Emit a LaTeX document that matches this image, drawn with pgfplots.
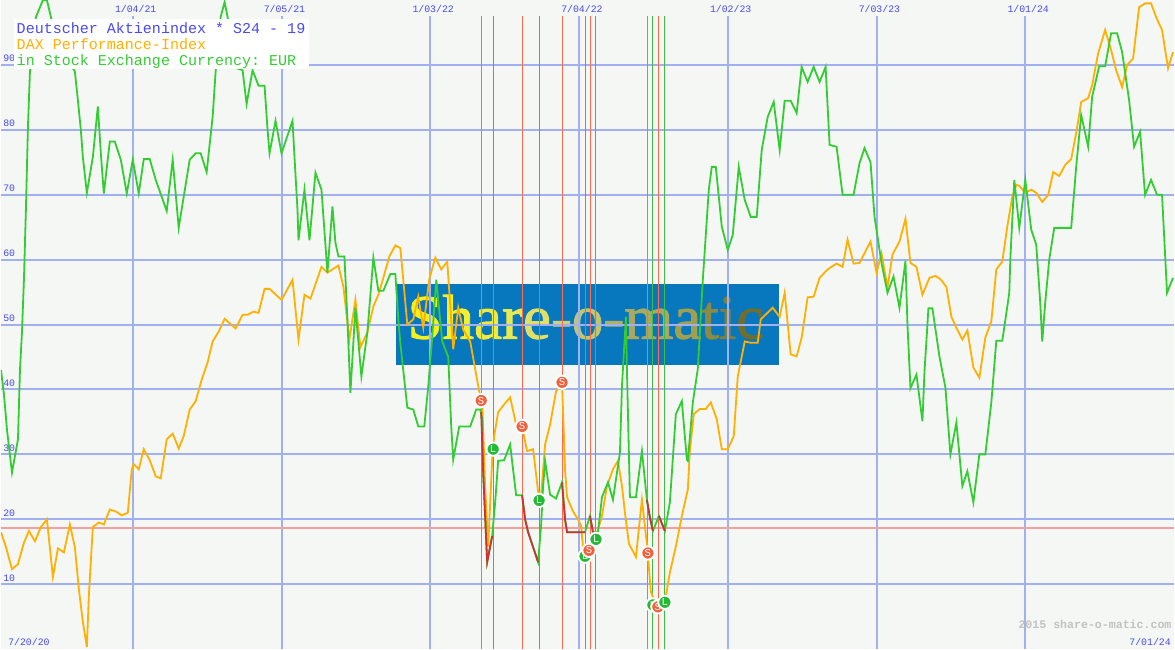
\documentclass[border=0pt]{standalone}
\usepackage{fontspec}
\setmainfont{Liberation Sans}
\setmonofont{Liberation Mono}
\newfontfamily\logofont[FakeBold=1.5]{Liberation Serif}
\usepackage{pgfplots}
\pgfplotsset{compat=1.18}

\definecolor{paper}{HTML}{F4F7F4}
\definecolor{gridblue}{HTML}{A0B0F0}
\definecolor{labelblue}{HTML}{4A4AEE}
\definecolor{daxorange}{HTML}{FFB000}
\definecolor{stochgreen}{HTML}{33CC33}
\definecolor{shortred}{HTML}{CC3333}
\definecolor{limitpink}{HTML}{F4A0A0}
\definecolor{sellline}{HTML}{FF6A50}
\definecolor{buyline}{HTML}{44BB44}
\definecolor{sellmark}{HTML}{F2603C}
\definecolor{buymark}{HTML}{22BB33}
\definecolor{logoblue}{HTML}{0878BE}

% S and L signal points, letter on the mark
\pgfplotsset{
  signal/.style={only marks, mark=*, mark size=5pt,
    mark options={draw=white, line width=1.4pt, fill=#1},
    nodes near coords={\pgfplotspointmeta},
    point meta=explicit symbolic,
    nodes near coords align={center},
    every node near coord/.style={font=\ttfamily\fontsize{8}{8}\selectfont,
      text=white, inner sep=0pt, anchor=center}},
}

\begin{document}
\begin{tikzpicture}
% page, logo under the grid; x and y here are image pixels from lower left
\begin{scope}[x=0.75pt,y=0.75pt]
  \useasboundingbox (0,0) rectangle (1175,650);
  \fill[paper] (0,0) rectangle (1175,650);
  \fill[logoblue] (396,285) rectangle (779,366);
  \node[anchor=base west, inner sep=0pt, font=\logofont\fontsize{47.3}{47.3}\selectfont] at (407,311) {%
    \textcolor[HTML]{F4F020}{S}\textcolor[HTML]{F2EE30}{h}\textcolor[HTML]{EEEA40}{a}\textcolor[HTML]{E8E850}{r}\textcolor[HTML]{E0E068}{e}\textcolor[HTML]{D0D078}{-}\textcolor[HTML]{C4C470}{o}\textcolor[HTML]{B0B060}{-}\textcolor[HTML]{A8A860}{m}\textcolor[HTML]{A0A050}{a}\textcolor[HTML]{8A8A40}{t}\textcolor[HTML]{807F40}{i}\textcolor[HTML]{6E6E30}{c}};
\end{scope}
\begin{axis}[
    at={(0,0)}, anchor=south west,
    scale only axis,
    width=881.25pt, height=487.5pt,
    xmin=0, xmax=1175, ymin=0, ymax=100,
    axis line style={draw=none},
    major tick length=0pt,
    ytick={10,20,30,40,50,60,70,80,90},
    ymajorgrids,
    grid style={gridblue, line width=1.5pt},
    xtick={132,281,430,579,728,877,1026},
    xticklabels={1/04/21,7/05/21,1/03/22,7/04/22,1/02/23,7/03/23,1/01/24},
    xticklabel pos=upper,
    /pgf/number format/assume math mode=true,
    tick label style={font=\ttfamily\fontsize{7.4}{7.4}\selectfont, text=labelblue, inner sep=0pt},
    yticklabel style={anchor=south west, xshift=1.5pt, yshift=2pt},
    xticklabel style={anchor=north, xshift=2.2pt, yshift=-3.5pt},
  ]
% x is the pixel column of the time axis (about 5.73 per week)
\addplot[gridblue, line width=1.5pt, ycomb, no marks] coordinates {(132,97.5) (281,97.5) (430,97.5) (579,97.5) (728,97.5) (877,97.5) (1026,97.5)};
\addplot[limitpink, line width=1.5pt, no marks] coordinates {(0,18.6) (1175,18.6)};
\addplot[sellline, line width=0.75pt, ycomb, no marks] coordinates {(481.5,97.5) (522,97.5) (562,97.5) (590,97.5) (648,97.5) (659,97.5)};
\addplot[buyline, line width=0.75pt, ycomb, no marks] coordinates {(493,97.5) (539,97.5) (585,97.5) (596,97.5) (653,97.5) (665,97.5)};

% DAX
\addplot[daxorange, line width=1.35pt, no marks] coordinates {
(0,18) (5,15.7) (11,12.3) (17,13.1) (23,16.4) (28,18.2) (34,16.6) (40,18.8) (46,20) (52,11.1) (57,15.5) (63,14.9) (69,19.2) (74,15.7) (78,9.2) (82,4.2) (86,0.3) (88,8.2) (92,18.8) (98,19.5) (103,19.2) (109,21.5) (115,21.2) (121,20.6) (127,21) (131,27.7) (133,28.5) (138,27.7) (143,30.8) (149,29.1) (155,26.6) (160,26.3) (166,32.3) (172,33.2) (178,30.9) (183,32.8) (189,36.9) (195,38.2) (201,41.5) (207,44.2) (212,47.4) (218,48.9) (224,50.9) (235,49.4) (242,51.5) (247,51.5) (253,52) (258,51.8) (264,55.5) (269,55.5) (281,53.8) (292,56.9) (295,52.3) (298,47.7) (304,54.6) (310,54) (321,58.9) (327,58) (338,59.1) (343,55.8) (349,47.7) (355,53.8) (360,46.5) (367,48.8) (373,52.8) (378,54.6) (383,57.2) (389,60.5) (395,62.2) (400,61.8) (402,58.5) (407,50) (413,50.8) (418,54.3) (423,49.5) (429,57) (435,60.3) (441,58.5) (447,59.7) (453,46.2) (458,52.6) (463,49.2) (470,47.4) (479,39.7) (482,38.2) (485,25) (488,15.8) (492,29.2) (494,32.8) (498,36.5) (504,37.7) (510,38.8) (516,34.6) (522,34.2) (527,30.5) (533,30.8) (538,24.3) (541,23.5) (545,31.5) (550,34.6) (556,39.7) (562,41) (565,27.7) (567,23.4) (573,21.2) (578,20) (581,19) (583,15.8) (587,14.3) (590,15.1) (596,17.4) (602,20.5) (607,25.1) (613,27.7) (618,29) (622,25.1) (625,21) (629,16.2) (636,14.2) (642,23) (647,16.2) (651,8.8) (653,8) (659,6.5) (665,7.2) (670,11.8) (676,15.8) (682,20.5) (688,24.6) (690,30.5) (694,36.2) (700,37) (706,37) (711,38) (717,35.4) (722,30.8) (728,30.8) (734,32.8) (738,42) (745,47.4) (751,47.2) (758,47.2) (761,50.8) (773,52.6) (780,51.2) (785,54.9) (791,45.4) (797,45.1) (802,48) (808,54.2) (814,54.3) (820,57.2) (828,58.5) (837,59.4) (843,58.9) (848,63.1) (854,59.4) (860,59.5) (871,62.8) (877,58) (882,61) (888,55.7) (893,60.8) (900,62.8) (906,66.3) (911,59.5) (917,58.9) (923,54.6) (930,57.2) (936,57.5) (941,57) (947,55.8) (952,51.2) (957,49.5) (963,47.7) (968,49.1) (974,43.4) (980,41.8) (986,48) (992,50.5) (997,58.5) (1003,59.7) (1008,65.1) (1013,69.7) (1017,71.5) (1020,71.4) (1026,70.3) (1032,70.8) (1037,70.3) (1043,68.9) (1049,70) (1054,73.5) (1060,72.9) (1066,74.6) (1072,75.5) (1077,79.5) (1082,84.3) (1089,84.9) (1093,86.9) (1099,91.8) (1106,95.4) (1112,92.3) (1117,89.2) (1123,86.6) (1128,90) (1134,91) (1140,98.9) (1146,99.5) (1152,99.5) (1157,97.4) (1163,95.4) (1169,89.5) (1174,92)
};
% indicator
\addplot[stochgreen, line width=1.35pt, no marks] coordinates {
(0,43) (3,39.2) (6,33.8) (11,27.2) (17,32.3) (19,43) (21,48.8) (23,57) (25,68) (27,80.5) (29,89) (35,97.4) (42,100) (46,100) (50,97.4) (57,93) (68,90.5) (74,89) (77,84.6) (80,80) (82,75.8) (86,70.3) (92,75.8) (97,83.6) (100,76.4) (103,70.2) (109,78.2) (114,78.2) (120,75.4) (126,70.2) (132,75.4) (138,70.2) (143,75.5) (149,75.5) (155,72.3) (166,67.5) (172,75.4) (178,64.9) (189,75.4) (195,76.4) (200,76.4) (206,73.5) (212,82) (215,89) (220,97.4) (224,99.7) (227,97.4) (236,89.5) (242,89.2) (246,84) (252,89.2) (258,86.8) (264,86.8) (267,80) (269,76.4) (275,81.4) (281,76.4) (292,81.4) (294,75.8) (297,67.7) (298,63) (304,70.8) (309,63) (315,73.4) (321,70.8) (327,58) (332,68.2) (335,62.6) (338,60.5) (344,60.5) (347,50.8) (350,39.5) (355,52.6) (361,42) (367,48.8) (373,60.3) (378,55.2) (383,55.2) (390,57.8) (395,57.8) (398,50.8) (400,47.2) (407,37.2) (413,36.9) (418,34.3) (424,34.3) (428,40.5) (432,48.2) (436,56.9) (442,47.4) (448,45) (451,34.3) (453,29.2) (459,34.3) (470,34.3) (476,36.9) (480,36.9) (482,35.5) (483,27.2) (487,13.4) (492,17.4) (495,22.6) (498,29) (504,29.1) (510,31.5) (516,23.7) (522,23.7) (525,20) (528,18) (538,13.4) (541,19) (543,25) (545,29) (550,23.8) (556,23.2) (562,25.7) (565,20) (567,18) (585,18) (590,20.5) (593,18) (598,18) (602,23.4) (608,25.7) (613,23) (620,30.3) (622,40.5) (626,51.2) (627,43) (630,23.4) (636,23.4) (642,30.5) (647,23) (650,20.3) (653,18.2) (659,20.5) (665,18.2) (670,22.6) (676,36.2) (682,38.2) (687,29.2) (688,29) (693,38) (698,43.2) (703,56.9) (709,70.8) (712,74.3) (716,74.3) (722,65.1) (728,61.5) (733,63.8) (739,74.3) (745,69.2) (751,66.6) (757,66.6) (762,76.9) (768,82) (774,84.3) (780,76.9) (785,84.5) (791,84.5) (797,82.6) (802,89.7) (808,87.4) (814,89.7) (820,87.4) (826,89.7) (830,77.7) (837,77.4) (843,70) (854,70) (860,74.9) (865,77.2) (871,75) (875,66.6) (882,59.5) (888,54.9) (894,57.4) (900,52.6) (906,59.8) (908,50) (911,40.2) (917,42.3) (923,35.1) (925,42.6) (929,52.5) (933,52.5) (940,45.1) (946,40.3) (951,30) (957,34.9) (963,25.1) (968,27.4) (974,22.6) (980,30) (986,30) (992,38) (997,47.5) (1003,47.5) (1010,54.9) (1011,60) (1015,72.3) (1020,64.9) (1026,72.3) (1032,64.6) (1037,62.3) (1041,53.4) (1043,47.4) (1046,53.4) (1050,60) (1055,64.9) (1072,64.9) (1077,74.3) (1082,82.3) (1089,77.4) (1093,85.1) (1100,89.8) (1106,89.8) (1112,94.9) (1118,94.9) (1123,92) (1130,84.6) (1135,77.4) (1141,79.7) (1146,70) (1152,72.3) (1158,70) (1163,70) (1168,54.9) (1174,57.2)
};
% short stretches of the same line
\addplot[shortred, line width=1.35pt, no marks, unbounded coords=jump] coordinates {
(481,36.5) (483,27.2) (487,13.4) (492,17.4) (nan,nan)
(522,23.7) (525,20) (528,18) (538,13.4) (nan,nan)
(562,25.7) (565,20) (567,18) (585,18) (nan,nan)
(590,20.5) (593,18) (nan,nan)
(647,23) (650,20.3) (653,18.2) (nan,nan)
(659,20.5) (665,18.2)
};

% signals, later ones on top
\addplot[signal=buymark] coordinates {(493,30.8) [L] (539,22.9) [L] (585,14.3) [L]};
\addplot[signal=sellmark] coordinates {(481,38.3) [S] (522,34.3) [S] (562,41.1) [S] (589,15.2) [S] (648,14.8) [S]};
\addplot[signal=buymark] coordinates {(596,16.9) [L] (653,6.8) [L]};
\addplot[signal=sellmark] coordinates {(658,6.5) [S]};
\addplot[signal=buymark] coordinates {(665,7.2) [L]};

% heading box and small texts
\fill[white] (axis cs:13,97.08) rectangle (axis cs:309,89.38);
\node[anchor=base west, inner sep=0pt, text=labelblue, font=\ttfamily\fontsize{11.29}{11.29}\selectfont] at (axis cs:15.5,94.92) {Deutscher Aktienindex * S24 - 19};
\node[anchor=base west, inner sep=0pt, text=daxorange, font=\ttfamily\fontsize{11.29}{11.29}\selectfont] at (axis cs:15.5,92.46) {DAX Performance-Index};
\node[anchor=base west, inner sep=0pt, text=stochgreen, font=\ttfamily\fontsize{11.29}{11.29}\selectfont] at (axis cs:15.5,90) {in Stock Exchange Currency: EUR};
\node[anchor=base west, inner sep=0pt, text=labelblue, font=\ttfamily\fontsize{7.4}{7.4}\selectfont] at (axis cs:7,0.6) {7/20/20};
\node[anchor=base east, inner sep=0pt, text=labelblue, font=\ttfamily\fontsize{7.4}{7.4}\selectfont] at (axis cs:1172,0.6) {7/01/24};
\node[anchor=base west, inner sep=0pt, text=black!24, font=\ttfamily\bfseries\fontsize{8.7}{8.7}\selectfont] at (axis cs:1019,3.2) {2015 share-o-matic.com};
\end{axis}
\end{tikzpicture}
\end{document}
